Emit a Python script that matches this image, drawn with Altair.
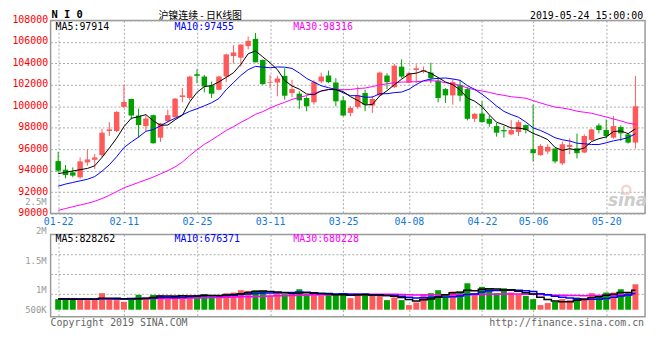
import altair as alt
import numpy as np
import pandas as pd

# ---------------- data ----------------
tick_idx = [0, 9, 19, 29, 39, 48, 58, 65, 75]
tick_lbl = ["01-22", "02-11", "02-25", "03-11", "03-25", "04-08", "04-22", "05-06", "05-20"]

opens = [
    94892, 94092, 93846, 93385, 94769, 95015, 95446, 97692, 97692, 99938,
    100677, 99138, 98154, 99169, 97077, 98615, 98985, 100862, 100769, 102985,
    102769, 101938, 101538, 102769, 104677, 104523, 105600, 106277, 104308, 102185,
    102215, 102831, 101231, 101169, 100769, 100369, 102308, 102862, 102215, 100554,
    99385, 99938, 101231, 100062, 101015, 102862, 101785, 103692, 102215, 103385,
    103292, 103138, 102400, 101600, 101015, 102000, 101600, 98831, 99323, 98831,
    98154, 97785, 97385, 97600, 98246, 96000, 95446, 95785, 96062, 94677,
    96215, 96092, 95692, 96862, 98215, 97785, 97077, 98062, 97385, 96615,
]
closes = [
    94000, 93600, 93538, 94862, 95046, 95231, 97538, 97846, 99477, 100400,
    99138, 98246, 98862, 96554, 98400, 99169, 100708, 101015, 102769, 102831,
    101846, 101169, 102769, 104831, 105015, 105754, 106092, 104092, 102062, 102246,
    102585, 100985, 101600, 100554, 100000, 102246, 102769, 102246, 100462, 99138,
    99846, 101015, 100154, 100677, 103138, 102246, 103785, 102769, 103077, 103538,
    103385, 102615, 100769, 101015, 102246, 100985, 98831, 99292, 98523, 98369,
    97538, 97662, 97785, 98523, 97785, 95631, 96308, 96215, 94862, 96462,
    96400, 95631, 97231, 97846, 97785, 97231, 98154, 97477, 96615, 100000,
]
highs = [
    95754, 94523, 94308, 95231, 96000, 95538, 97908, 98523, 99538, 102000,
    100708, 99785, 99169, 99231, 98462, 99692, 100769, 101692, 102831, 103446,
    102923, 102308, 102831, 104900, 105692, 105754, 106500, 106831, 104369, 102923,
    102831, 103538, 102462, 101385, 100923, 102462, 103138, 103323, 102615, 100923,
    100000, 101846, 101538, 100985, 103231, 103077, 103938, 104369, 103231, 103908,
    103692, 104062, 102615, 101692, 102523, 102462, 101785, 99385, 100462, 99138,
    98462, 98154, 98708, 98708, 98308, 100154, 96462, 96462, 96062, 96708,
    97015, 97446, 97385, 97908, 98400, 98769, 99077, 98215, 97477, 102831,
]
lows = [
    93846, 93292, 93385, 93231, 94462, 94154, 95231, 97231, 97600, 99846,
    98769, 97077, 97692, 96523, 96677, 98462, 98923, 100369, 100554, 102154,
    101300, 100769, 101477, 102246, 104000, 103692, 105292, 104092, 102000, 101692,
    100923, 100615, 100862, 99754, 99538, 100154, 102154, 102154, 100000, 99077,
    99077, 99754, 99538, 99385, 100923, 101600, 101692, 102615, 102154, 102154,
    103077, 102154, 100369, 100308, 100154, 100462, 98677, 98523, 98462, 98092,
    97169, 97077, 97292, 97231, 97477, 94862, 95385, 95538, 94677, 94523,
    95538, 95138, 95631, 96769, 97477, 96985, 96985, 96769, 96523, 96062,
]
volumes = [
    448000, 448000, 448000, 448000, 406000, 448000, 700000, 448000, 406000, 336000,
    490000, 630000, 518000, 630000, 616000, 490000, 616000, 588000, 616000, 588000,
    658000, 560000, 588000, 700000, 728000, 826000, 798000, 826000, 798000, 588000,
    742000, 658000, 658000, 868000, 658000, 630000, 588000, 644000, 658000, 658000,
    490000, 658000, 700000, 588000, 658000, 406000, 518000, 406000, 196000, 308000,
    658000, 700000, 826000, 658000, 770000, 770000, 1120000, 700000, 966000, 910000,
    700000, 910000, 728000, 658000, 588000, 448000, 196000, 280000, 336000, 448000,
    406000, 518000, 490000, 700000, 616000, 728000, 728000, 868000, 700000, 1078000,
]

# moving-average values before the window is full
ma5_lead = [93720, 93846, 93970, 94092]
ma10_lead = [92550, 92750, 92900, 93050, 93200, 93450, 93950, 94550, 95300]
ma30_lead = [90300, 90470, 90640, 90800, 90960, 91150, 91400, 91700, 92050, 92400,
             92650, 92900, 93150, 93400, 93700, 94000, 94350, 94800, 95400, 95950,
             96450, 96850, 97300, 97750, 98100, 98500, 98850, 99250, 99500]
vma5_lead = [450000, 450000, 445000, 440000]
vma10_lead = [455000, 455000, 455000, 452000, 450000, 450000, 460000, 462000, 458000]
vma30_lead = [460000, 460000, 460000, 460000, 458000, 458000, 458000, 456000, 455000, 455000,
              458000, 462000, 466000, 470000, 475000, 480000, 485000, 490000, 495000, 500000,
              505000, 512000, 520000, 528000, 536000, 545000, 553000, 562000, 571000]

price_legend = ["MA5:97914", "MA10:97455", "MA30:98316"]
vol_legend = ["MA5:828262", "MA10:676371", "MA30:680228"]
vol_tick_text = ["2.5M", "2M", "1.5M", "1M", "500K"]
vol_tick_val = [2.5, 2.0, 1.5, 1.0, 0.5]
price_ticks = [90000, 92000, 94000, 96000, 98000, 100000, 102000, 104000, 106000, 108000]

# ---------------- table ----------------
n = len(closes)
df = pd.DataFrame({"i": list(range(n)), "open": opens, "high": highs, "low": lows,
                   "close": closes, "vol": volumes})
df["dir"] = np.where(df["close"] >= df["open"], "up", "down")


def moving(col, w, lead):
    m = df[col].rolling(w).mean()
    m.iloc[:len(lead)] = lead
    return m


df["ma5"] = moving("close", 5, ma5_lead)
df["ma10"] = moving("close", 10, ma10_lead)
df["ma30"] = moving("close", 30, ma30_lead)
df["vma5"] = moving("vol", 5, vma5_lead)
df["vma10"] = moving("vol", 10, vma10_lead)
df["vma30"] = moving("vol", 30, vma30_lead)

# ---------------- style ----------------
RED = "#ff5a5a"
GREEN = "#00a000"
MA_COLORS = ["#000000", "#0000ff", "#ff00ff"]
MONO = "DejaVu Sans Mono"
GRID = "#aaaaaa"
W, H1, H2 = 600, 195, 83

xscale = alt.Scale(domain=[-0.36, n - 0.36], nice=False, zero=False)
pscale = alt.Scale(domain=[90000, 108000], nice=False, zero=False)
vdom = [-294000, 3192000]
vscale = alt.Scale(domain=vdom, nice=False, zero=False)
vstep = (vdom[1] - vdom[0]) * 20 / H2
vol_grid = [vdom[1] - k * vstep for k in (1, 2, 3)]

label_expr = "%s[indexof(%s, datum.value)]" % (tick_lbl, tick_idx)

ax_x_price = alt.Axis(values=tick_idx, labelExpr=label_expr, title=None, ticks=False,
                      domain=False, grid=True, gridColor=GRID, gridDash=[2, 2],
                      labelColor="#1278d8", labelFont=MONO, labelFontSize=10,
                      labelPadding=3, labelFlush=False, labelOverlap=False, labelAngle=0)
ax_x_vol = alt.Axis(values=tick_idx, labels=False, title=None, ticks=False, domain=False,
                    grid=True, gridColor=GRID, gridDash=[2, 2])
ax_y_price = alt.Axis(values=price_ticks, format="d", title=None, ticks=False, domain=False,
                      grid=True, gridColor=GRID, gridDash=[2, 2], labelColor="#ff0000",
                      labelFont=MONO, labelFontSize=10, labelPadding=3,
                      labelOverlap=False, labelFlush=False, labelOffset=-1)
ax_y_vol = alt.Axis(values=vol_grid, labels=False, title=None, ticks=False, domain=False,
                    grid=True, gridColor=GRID, gridDash=[2, 2])

col = alt.Color("dir:N", scale=alt.Scale(domain=["up", "down"], range=[RED, GREEN]),
                legend=None)


def xp():
    return alt.X("i:Q", scale=xscale, axis=ax_x_price)


def xv():
    return alt.X("i:Q", scale=xscale, axis=ax_x_vol)


def yp(f):
    return alt.Y(f, scale=pscale, axis=ax_y_price)


def yv(f):
    return alt.Y(f, scale=vscale, axis=ax_y_vol)


def label(text, x, y, color, size=10, align="left", baseline="middle", font=MONO,
          weight="normal", style="normal"):
    return alt.Chart(pd.DataFrame({"t": [text]})).mark_text(
        align=align, baseline=baseline, font=font, fontSize=size, fontWeight=weight,
        fontStyle=style, color=color
    ).encode(x=alt.value(x), y=alt.value(y), text="t:N")


base = alt.Chart(df)

# ---------------- price panel ----------------
wick = base.mark_rule(strokeWidth=1).encode(x=xp(), y=yp("low:Q"), y2="high:Q", color=col)
body = base.mark_bar(size=5.5).encode(x=xp(), y=yp("open:Q"), y2="close:Q", color=col)
plines = [base.mark_line(color=c, strokeWidth=1).encode(x=xp(), y=yp(f"{m}:Q"))
          for m, c in zip(["ma30", "ma10", "ma5"], MA_COLORS[::-1])]

logo = alt.Chart(pd.DataFrame({"t": ["logo"]})).mark_point(
    shape="circle", size=70, strokeWidth=2.5, color="#f3c4c4", filled=False
).encode(x=alt.value(581), y=alt.value(171))

ptexts = [
    label(price_legend[0], 5, 7, MA_COLORS[0]),
    label(price_legend[1], 125, 7, MA_COLORS[1]),
    label(price_legend[2], 245, 7, MA_COLORS[2]),
    label("N I 0", 1, -2.2, "#000000", size=10.5, baseline="alphabetic", weight="bold"),
    label("沪镍连续 - 日K线图", 151, -1.8, "#000000", size=10, align="center",
          baseline="alphabetic", font="Noto Sans CJK SC"),
    label("2019-05-24 15:00:00", 598, -1.5, "#000000", size=10, align="right",
          baseline="alphabetic"),
    label("sina", 602, 182, "#cccccc", size=17, align="right", font="DejaVu Sans",
          weight="bold", style="italic"),
]

price_panel = alt.layer(wick, body, *plines, logo, *ptexts).properties(width=W, height=H1)

# ---------------- volume panel ----------------
vbars = base.mark_bar(size=6).encode(x=xv(), y=yv("vol:Q"), y2=alt.datum(0), color=col)
vlines = [base.mark_line(color=c, strokeWidth=1.5, interpolate="step").encode(
    x=xv(), y=yv(f"{m}:Q")) for m, c in zip(["vma30", "vma10", "vma5"], MA_COLORS[::-1])]
vtexts = [
    label(vol_legend[0], 5, 5, MA_COLORS[0]),
    label(vol_legend[1], 125, 5, MA_COLORS[1]),
    label(vol_legend[2], 245, 5, MA_COLORS[2]),
    label("Copyright 2019 SINA.COM", 0, 89, "#666666"),
    label("http://finance.sina.com.cn", 599, 89, "#666666", align="right"),
]
vinner = alt.layer(vbars, *vlines, *vtexts)

vlab = alt.Chart(pd.DataFrame({"t": vol_tick_text, "v": vol_tick_val})).mark_text(
    align="right", baseline="middle", font=MONO, fontSize=9, color="#999999"
).encode(
    x=alt.value(-4),
    y=alt.Y("v:Q", scale=alt.Scale(domain=[0.5, 1.0, 2.5], range=[76, 56, -32.5],
                                   nice=False, zero=False), axis=None),
    text="t:N",
)

vol_panel = alt.layer(vinner, vlab).resolve_scale(y="independent").properties(
    width=W, height=H2)

chart = alt.vconcat(price_panel, vol_panel, spacing=21, bounds="flush").properties(
    padding={"left": 3, "top": 0, "right": 4, "bottom": 4}, background="white"
).configure_view(stroke="#999999", strokeWidth=1.5)

chart.save("out.html", embed_options={"renderer": "svg", "actions": False})
